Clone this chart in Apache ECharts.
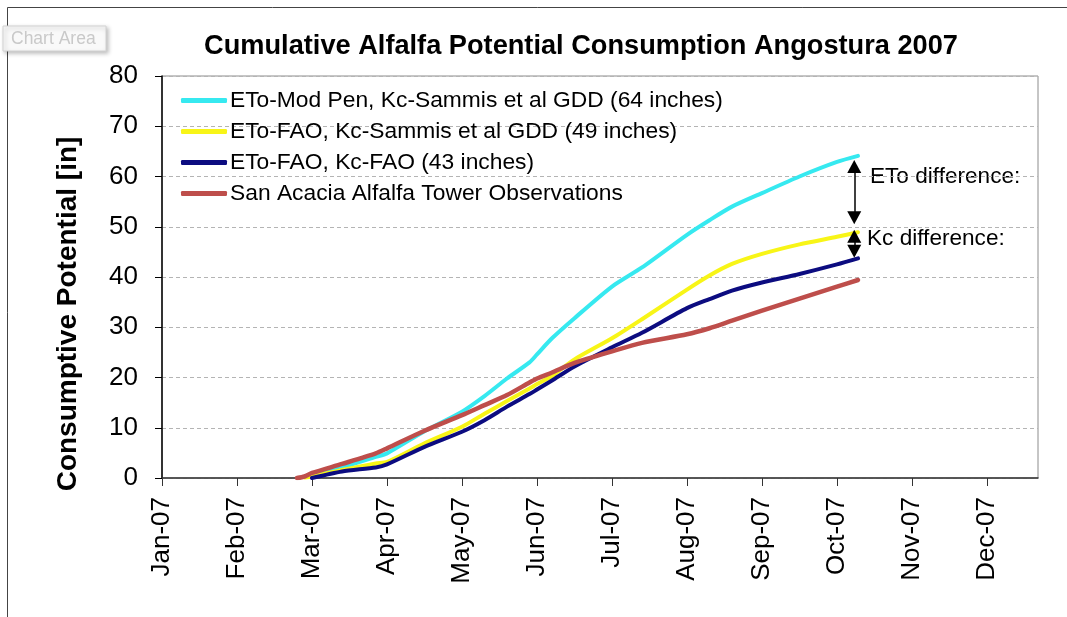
<!DOCTYPE html>
<html>
<head>
<meta charset="utf-8">
<script src="https://cdn.jsdelivr.net/npm/echarts@6/dist/echarts.min.js"></script>
<style>
  html, body { margin: 0; padding: 0; background: #fff; }
  #chart { width: 1067px; height: 617px; }
</style>
</head>
<body>
<div id="chart"></div>
<script>
// x positions are in months since Jan-07 (0 = Jan-07, 1 = Feb-07 ...)
const months = ["Jan-07", "Feb-07", "Mar-07", "Apr-07", "May-07", "Jun-07", "Jul-07", "Aug-07", "Sep-07", "Oct-07", "Nov-07", "Dec-07"];
const monthPos = [1.8, 1.9, 2.0, 2.4, 2.85, 3.0, 3.5, 4.0, 4.3, 4.6, 4.9, 5.0, 5.2, 5.5, 6.0, 6.4, 7.0, 7.3, 7.6, 8.0, 8.5, 9.0, 9.28];

const etoModPen = [null, 0.2, 0.6, 2.1, 4.2, 4.9, 9.3, 13.2, 16.3, 19.8, 23.0, 24.6, 27.8, 31.8, 38.1, 41.9, 48.4, 51.3, 54.0, 56.7, 60.0, 62.9, 64.1];
const etoFaoSammis = [null, 0.1, 0.3, 1.6, 2.9, 3.2, 6.9, 10.2, 12.8, 15.3, 17.8, 18.7, 20.3, 23.6, 27.8, 31.6, 37.5, 40.3, 42.6, 44.6, 46.5, 48.0, 48.9];
const etoFaoKcFao = [null, null, 0.0, 1.3, 2.1, 2.7, 6.2, 9.2, 11.5, 14.2, 16.7, 17.6, 19.4, 22.2, 26.0, 28.9, 33.8, 35.6, 37.3, 38.9, 40.6, 42.5, 43.7];
const towerObs = [0.0, 0.3, 1.0, 2.8, 4.9, 5.9, 9.4, 12.5, 14.5, 16.5, 19.0, 19.8, 21.0, 22.9, 25.2, 26.9, 28.6, 29.8, 31.3, 33.3, 35.7, 38.1, 39.4];

const seriesNames = [
  "ETo-Mod Pen, Kc-Sammis et al GDD (64 inches)",
  "ETo-FAO, Kc-Sammis et al GDD (49 inches)",
  "ETo-FAO, Kc-FAO (43 inches)",
  "San Acacia Alfalfa Tower Observations"
];
const colors = ["#36E9F0", "#F8F517", "#0C0C80", "#BE4E4B"];

// annotation arrows (data units, arrowhead centres)
const arrowX = 9.23;
const etoArrow = [62.0, 51.8];
const kcArrow = [48.1, 45.1];

const FONT = "'Liberation Sans', Arial, sans-serif";

const pairs = (vals) => monthPos.map((x, i) => (vals[i] == null ? null : [x, vals[i]])).filter(Boolean);

const chart = echarts.init(document.getElementById("chart"));

const mkSeries = (name, vals, color, extra) => Object.assign({
  name,
  type: "line",
  data: pairs(vals),
  symbol: "none",
  smooth: 0.25,
  lineStyle: { color, width: 4, cap: "round", join: "round" },
  itemStyle: { color },
  silent: true
}, extra || {});

chart.setOption({
  animation: false,
  backgroundColor: "#fff",
  grid: {
    left: 162, right: 29, top: 76, bottom: 139,
    show: true, borderColor: "#8c8c8c", borderWidth: 1, backgroundColor: "#fff"
  },
  legend: {
    orient: "vertical",
    left: 176, top: 84,
    itemWidth: 46, itemHeight: 5, itemGap: 8,
    icon: "roundRect",
    textStyle: { fontFamily: FONT, fontSize: 22.8, color: "#000", lineHeight: 22, padding: [0, 0, 0, -2] },
    data: seriesNames
  },
  xAxis: {
    type: "value",
    min: 0, max: 11.68, interval: 1,
    axisLine: { lineStyle: { color: "#333", width: 1.5 } },
    axisTick: { length: 8, lineStyle: { color: "#333" }, customValues: months.map((m, i) => i) },
    axisLabel: {
      rotate: 90, margin: 19, color: "#000",
      fontFamily: FONT, fontSize: 26,
      customValues: months.map((m, i) => i),
      formatter: (v) => months[Math.round(v)] || ""
    },
    splitLine: { show: false }
  },
  yAxis: {
    type: "value",
    min: 0, max: 80, interval: 10,
    axisLine: { show: true, lineStyle: { color: "#000", width: 1.5 } },
    axisTick: { show: true, length: 7, lineStyle: { color: "#000" } },
    axisLabel: { margin: 24, color: "#000", fontFamily: FONT, fontSize: 26 },
    splitLine: { lineStyle: { color: "#b4b4b4", type: [4, 3], width: 1 } }
  },
  series: [
    mkSeries(seriesNames[0], etoModPen, colors[0], {
      markLine: {
        silent: true,
        symbol: ["triangle", "triangle"],
        symbolSize: [14, 13],
        label: { show: false },
        lineStyle: { color: "#000", type: "solid", width: 1.5 },
        data: [
          [{ coord: [arrowX, etoArrow[0]] }, { coord: [arrowX, etoArrow[1]] }],
          [{ coord: [arrowX, kcArrow[0]] }, { coord: [arrowX, kcArrow[1]] }]
        ]
      }
    }),
    mkSeries(seriesNames[1], etoFaoSammis, colors[1]),
    mkSeries(seriesNames[2], etoFaoKcFao, colors[2]),
    mkSeries(seriesNames[3], towerObs, colors[3], { lineStyle: { color: colors[3], width: 4.5, cap: "round", join: "round" } })
  ],
  graphic: [
    { type: "rect", z: -10, shape: { x: 7.5, y: 7.5, width: 1200, height: 800 }, style: { fill: "none", stroke: "#444", lineWidth: 1 } },
    {
      type: "rect", z: 100,
      shape: { x: 3, y: 26, width: 103, height: 25 },
      style: { fill: "#f9f9f9", stroke: "#d2d2d2", lineWidth: 1, shadowColor: "rgba(0,0,0,0.25)", shadowBlur: 4, shadowOffsetX: 2, shadowOffsetY: 2 }
    },
    { type: "text", z: 101, x: 11, y: 39, style: { text: "Chart Area", fill: "#c9c9c9", font: "17.5px " + FONT, verticalAlign: "middle" } },
    {
      type: "text", x: 581, y: 47,
      style: { text: "Cumulative Alfalfa Potential Consumption Angostura 2007", fill: "#000", font: "bold 27.2px " + FONT, align: "center", verticalAlign: "middle" }
    },
    {
      type: "text", x: 68, y: 314, rotation: Math.PI / 2,
      style: { text: "Consumptive Potential [in]", fill: "#000", font: "bold 28px " + FONT, align: "center", verticalAlign: "middle" }
    },
    { type: "text", x: 870, y: 177, style: { text: "ETo difference:", fill: "#000", font: "22.6px " + FONT, verticalAlign: "middle" } },
    { type: "text", x: 867, y: 239, style: { text: "Kc difference:", fill: "#000", font: "22.6px " + FONT, verticalAlign: "middle" } }
  ]
});
</script>
</body>
</html>
